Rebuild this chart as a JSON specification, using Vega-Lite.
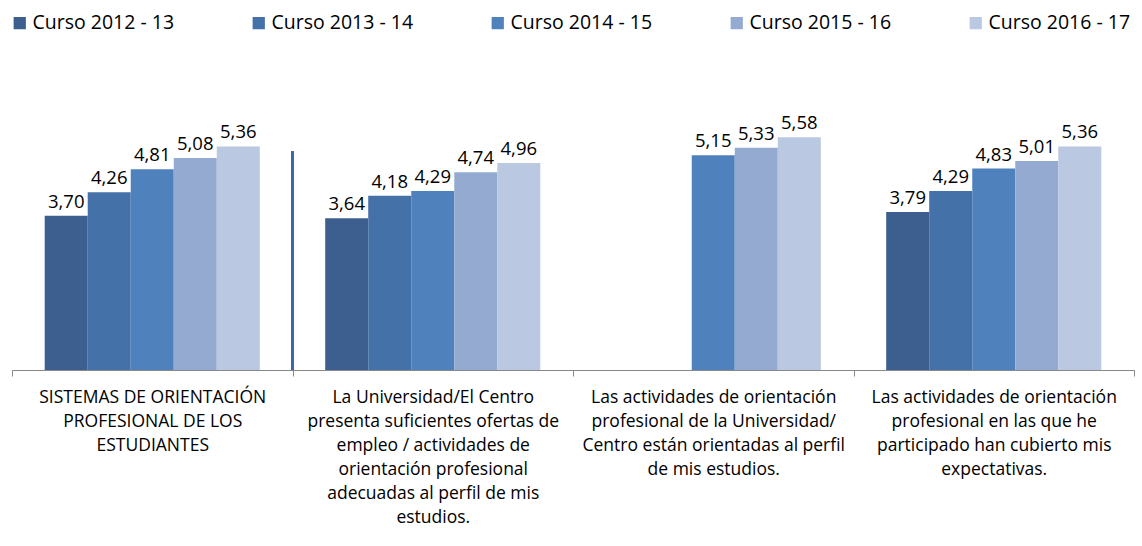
{
  "$schema": "https://vega.github.io/schema/vega-lite/v6.json",
  "autosize": {"type": "none"},
  "padding": {"left": 12, "top": 78, "right": 8, "bottom": 176},
  "width": 1122,
  "height": 292,
  "config": {
    "font": "Open Sans",
    "view": {"stroke": null},
    "locale": {"number": {"decimal": ",", "thousands": ".", "grouping": [3], "currency": ["", " €"]}}
  },
  "data": {
    "values": [
      {"cat": "SISTEMAS DE ORIENTACIÓN|PROFESIONAL DE LOS|ESTUDIANTES", "serie": "Curso 2012 - 13", "v": 3.70},
      {"cat": "SISTEMAS DE ORIENTACIÓN|PROFESIONAL DE LOS|ESTUDIANTES", "serie": "Curso 2013 - 14", "v": 4.26},
      {"cat": "SISTEMAS DE ORIENTACIÓN|PROFESIONAL DE LOS|ESTUDIANTES", "serie": "Curso 2014 - 15", "v": 4.81},
      {"cat": "SISTEMAS DE ORIENTACIÓN|PROFESIONAL DE LOS|ESTUDIANTES", "serie": "Curso 2015 - 16", "v": 5.08},
      {"cat": "SISTEMAS DE ORIENTACIÓN|PROFESIONAL DE LOS|ESTUDIANTES", "serie": "Curso 2016 - 17", "v": 5.36},
      {"cat": "La Universidad/El Centro|presenta suficientes ofertas de|empleo / actividades de|orientación profesional|adecuadas al perfil de mis|estudios.", "serie": "Curso 2012 - 13", "v": 3.64},
      {"cat": "La Universidad/El Centro|presenta suficientes ofertas de|empleo / actividades de|orientación profesional|adecuadas al perfil de mis|estudios.", "serie": "Curso 2013 - 14", "v": 4.18},
      {"cat": "La Universidad/El Centro|presenta suficientes ofertas de|empleo / actividades de|orientación profesional|adecuadas al perfil de mis|estudios.", "serie": "Curso 2014 - 15", "v": 4.29},
      {"cat": "La Universidad/El Centro|presenta suficientes ofertas de|empleo / actividades de|orientación profesional|adecuadas al perfil de mis|estudios.", "serie": "Curso 2015 - 16", "v": 4.74},
      {"cat": "La Universidad/El Centro|presenta suficientes ofertas de|empleo / actividades de|orientación profesional|adecuadas al perfil de mis|estudios.", "serie": "Curso 2016 - 17", "v": 4.96},
      {"cat": "Las actividades de orientación|profesional de la Universidad/|Centro están orientadas al perfil|de mis estudios.", "serie": "Curso 2014 - 15", "v": 5.15},
      {"cat": "Las actividades de orientación|profesional de la Universidad/|Centro están orientadas al perfil|de mis estudios.", "serie": "Curso 2015 - 16", "v": 5.33},
      {"cat": "Las actividades de orientación|profesional de la Universidad/|Centro están orientadas al perfil|de mis estudios.", "serie": "Curso 2016 - 17", "v": 5.58},
      {"cat": "Las actividades de orientación|profesional en las que he|participado han cubierto mis|expectativas.", "serie": "Curso 2012 - 13", "v": 3.79},
      {"cat": "Las actividades de orientación|profesional en las que he|participado han cubierto mis|expectativas.", "serie": "Curso 2013 - 14", "v": 4.29},
      {"cat": "Las actividades de orientación|profesional en las que he|participado han cubierto mis|expectativas.", "serie": "Curso 2014 - 15", "v": 4.83},
      {"cat": "Las actividades de orientación|profesional en las que he|participado han cubierto mis|expectativas.", "serie": "Curso 2015 - 16", "v": 5.01},
      {"cat": "Las actividades de orientación|profesional en las que he|participado han cubierto mis|expectativas.", "serie": "Curso 2016 - 17", "v": 5.36}
    ]
  },
  "encoding": {
    "x": {
      "field": "cat", "type": "nominal", "sort": null, "title": null,
      "scale": {"paddingInner": 0, "paddingOuter": 0},
      "axis": {
        "labelAngle": 0,
        "labelExpr": "split(datum.label, '|')",
        "labelLineHeight": 24,
        "labelFontSize": 17.5,
        "labelColor": "#000000",
        "labelLimit": 300,
        "labelPadding": 12,
        "labelOverlap": false,
        "tickBand": "extent",
        "tickSize": 6,
        "tickColor": "#888888",
        "domainColor": "#888888",
        "grid": false
      }
    },
    "xOffset": {"field": "serie", "type": "nominal", "scale": {"paddingOuter": 0.76, "paddingInner": 0}},
    "y": {"field": "v", "type": "quantitative", "scale": {"domain": [0, 7]}, "axis": null}
  },
  "layer": [
    {
      "mark": {"type": "bar"},
      "encoding": {
        "color": {
          "field": "serie", "type": "nominal", "title": null,
          "scale": {"range": ["#3C5F8F", "#4472A8", "#4F81BD", "#95AAD1", "#BAC8E2"]},
          "legend": {
            "orient": "none", "direction": "horizontal", "columns": 5,
            "legendX": -2, "legendY": -65,
            "symbolType": "square", "symbolSize": 150, "symbolStrokeWidth": 0,
            "labelFontSize": 19.5, "labelColor": "#000000", "labelOffset": 3,
            "columnPadding": 74, "gridAlign": "all", "labelLimit": 300
          }
        }
      }
    },
    {
      "mark": {"type": "text", "baseline": "bottom", "dy": -4, "fontSize": 18.5, "color": "#000000"},
      "encoding": {"text": {"field": "v", "type": "quantitative", "format": ".2f"}}
    },
    {
      "mark": {"type": "rule", "color": "#3E66A0", "strokeWidth": 3},
      "encoding": {
        "x": {"datum": "La Universidad/El Centro|presenta suficientes ofertas de|empleo / actividades de|orientación profesional|adecuadas al perfil de mis|estudios.", "type": "nominal", "bandPosition": 0},
        "xOffset": null,
        "y": {"datum": 5.23},
        "y2": {"datum": 0}
      }
    }
  ]
}
